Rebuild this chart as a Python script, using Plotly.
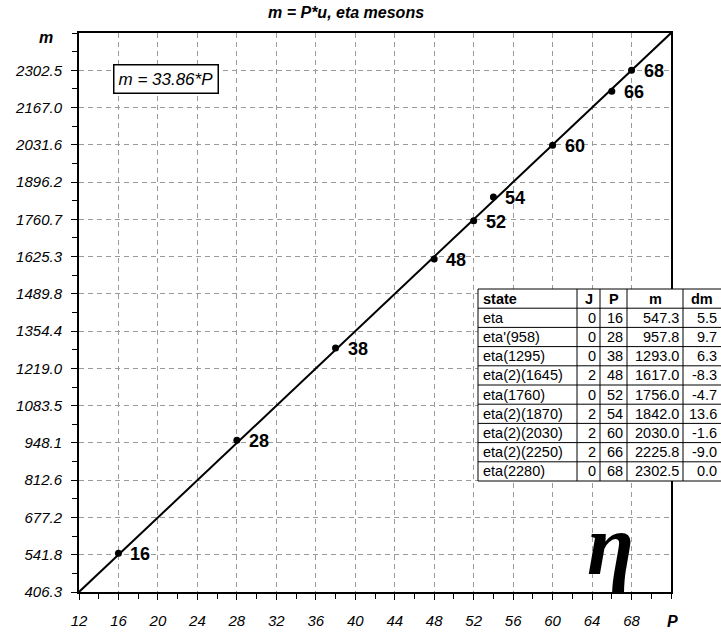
import plotly.graph_objects as go

# eta meson states: quantum number J, index P, mass m and deviation dm from the fit
states = ["eta", "eta'(958)", "eta(1295)", "eta(2)(1645)", "eta(1760)",
          "eta(2)(1870)", "eta(2)(2030)", "eta(2)(2250)", "eta(2280)"]
J = [0, 0, 0, 2, 0, 2, 2, 2, 0]
P = [16, 28, 38, 48, 52, 54, 60, 66, 68]
m = [547.3, 957.8, 1293.0, 1617.0, 1756.0, 1842.0, 2030.0, 2225.8, 2302.5]
dm = [5.5, 9.7, 6.3, -8.3, -4.7, 13.6, -1.6, -9.0, 0.0]

# fitted mass unit: m = u*P
U = 33.86
P_RANGE = [12, 72]

x_ticks = [12, 16, 20, 24, 28, 32, 36, 40, 44, 48, 52, 56, 60, 64, 68]
y_tick_labels = ["406.3", "541.8", "677.2", "812.6", "948.1", "1083.5", "1219.0",
                 "1354.4", "1489.8", "1625.3", "1760.7", "1896.2", "2031.6",
                 "2167.0", "2302.5"]

table_header = ["state", "J", "P", "m", "dm"]

W, H = 721, 633
ML, MR, MT, MB = 79, 0, 33, 41
PLOT_RIGHT = 671
paper_w = W - ML - MR
paper_h = H - MT - MB


def px(x):
    return (x - ML) / paper_w


def py(y):
    return (H - MB - y) / paper_h


FONT = "Liberation Sans, Arial, sans-serif"

fig = go.Figure()

# fit line across the full axis range
fig.add_trace(go.Scatter(
    x=P_RANGE, y=[U * p for p in P_RANGE], mode="lines",
    line=dict(color="black", width=2), hoverinfo="skip", showlegend=False))

# measured states
fig.add_trace(go.Scatter(
    x=P, y=m, mode="markers", marker=dict(color="black", size=7),
    showlegend=False))

for p, mv in zip(P, m):
    fig.add_annotation(x=p, y=mv, text=str(p), showarrow=False, xanchor="left",
                       yanchor="middle", xshift=10, yshift=-1,
                       font=dict(family=FONT, size=18, color="black", weight="bold"))

# ---- table of states (white box, ruling, cell texts) ----
col_edges = [478, 577, 600, 627, 683, 721.5]
row_top, row_h = 289, 19.2
n_rows = len(states) + 1
row_edges = [row_top + k * row_h for k in range(n_rows + 1)]

fig.add_shape(type="rect", xref="paper", yref="paper",
              x0=px(col_edges[0]), x1=px(col_edges[-1]),
              y0=py(row_edges[-1]), y1=py(row_edges[0]),
              fillcolor="white", line=dict(color="black", width=1), layer="above")
for ye in row_edges[1:-1]:
    fig.add_shape(type="line", xref="paper", yref="paper",
                  x0=px(col_edges[0]), x1=px(col_edges[-1]), y0=py(ye), y1=py(ye),
                  line=dict(color="black", width=1), layer="above")
for xe in col_edges[1:-1]:
    fig.add_shape(type="line", xref="paper", yref="paper",
                  x0=px(xe), x1=px(xe), y0=py(row_edges[-1]), y1=py(row_edges[0]),
                  line=dict(color="black", width=1), layer="above")

cell_font = dict(family=FONT, size=14.5, color="black")
head_font = dict(family=FONT, size=14.5, color="black", weight="bold")

# header row
for c, name in enumerate(table_header):
    yc = py(row_edges[0] + row_h / 2)
    if c == 0:
        fig.add_annotation(x=px(col_edges[0] + 3), y=yc, xref="paper", yref="paper",
                           text=name, showarrow=False, xanchor="left",
                           yanchor="middle", font=head_font)
    else:
        fig.add_annotation(x=px((col_edges[c] + col_edges[c + 1]) / 2), y=yc,
                           xref="paper", yref="paper", text=name, showarrow=False,
                           xanchor="center", yanchor="middle", font=head_font)

# body rows
columns = [states, [str(v) for v in J], [str(v) for v in P],
           [f"{v:.1f}" for v in m], [f"{v:.1f}" for v in dm]]
for r in range(len(states)):
    yc = py(row_edges[r + 1] + row_h / 2)
    for c, col in enumerate(columns):
        if c == 0:
            fig.add_annotation(x=px(col_edges[0] + 3), y=yc, xref="paper",
                               yref="paper", text=col[r], showarrow=False,
                               xanchor="left", yanchor="middle", font=cell_font)
        else:
            fig.add_annotation(x=px(min(col_edges[c + 1], 721) - 2), y=yc,
                               xref="paper", yref="paper", text=col[r],
                               showarrow=False, xanchor="right", yanchor="middle",
                               font=cell_font)

grid = dict(showgrid=True, gridcolor="#9a9a9a", gridwidth=1, griddash="5px,4px")

fig.update_xaxes(
    domain=[0, (PLOT_RIGHT - ML) / paper_w], range=P_RANGE,
    tickvals=x_ticks, ticktext=[str(v) for v in x_ticks],
    ticks="outside", ticklen=6, tickwidth=1, tickcolor="black",
    ticklabelstandoff=8,
    minor=dict(tick0=12, dtick=2, ticks="outside", ticklen=5, tickcolor="black",
               showgrid=False),
    showline=True, linecolor="black", linewidth=2, mirror=True, zeroline=False,
    tickfont=dict(family=FONT, size=15, color="black", style="italic"),
    **grid)

fig.update_yaxes(
    range=[U * P_RANGE[0], U * P_RANGE[1]],
    tickvals=[U * v for v in x_ticks], ticktext=y_tick_labels,
    ticks="outside", ticklen=6, tickwidth=1, tickcolor="black",
    ticklabelstandoff=6,
    minor=dict(tick0=U * 12, dtick=U * 2, ticks="outside", ticklen=5,
               tickcolor="black", showgrid=False),
    showline=True, linecolor="black", linewidth=2, mirror=True, zeroline=False,
    tickfont=dict(family=FONT, size=15, color="black", style="italic"),
    **grid)

# title and axis names
fig.add_annotation(x=px(346), y=py(12), xref="paper", yref="paper",
                   text="m = P*u, eta mesons", showarrow=False,
                   xanchor="center", yanchor="middle",
                   font=dict(family=FONT, size=16, color="black", weight="bold",
                             style="italic"))
fig.add_annotation(x=px(46), y=py(37), xref="paper", yref="paper", text="m",
                   showarrow=False, xanchor="center", yanchor="middle",
                   font=dict(family=FONT, size=16, color="black", weight="bold",
                             style="italic"))
fig.add_annotation(x=px(672), y=py(621), xref="paper", yref="paper", text="P",
                   showarrow=False, xanchor="center", yanchor="middle",
                   font=dict(family=FONT, size=16, color="black", weight="bold",
                             style="italic"))

# fit equation box
fig.add_annotation(x=px(113), y=py(79), xref="paper", yref="paper",
                   text=f"m = {U}*P", showarrow=False, xanchor="left",
                   yanchor="middle",
                   bgcolor="white", bordercolor="black", borderwidth=1.5,
                   borderpad=4,
                   font=dict(family=FONT, size=17, color="black", style="italic"))

# eta symbol
fig.add_annotation(x=px(610), y=py(545), xref="paper", yref="paper", text="η",
                   showarrow=False, xanchor="center", yanchor="middle",
                   font=dict(family="Liberation Serif, Times New Roman, serif",
                             size=86, color="black", style="italic",
                             weight="bold"))

fig.update_layout(
    width=W, height=H, margin=dict(l=ML, r=MR, t=MT, b=MB),
    paper_bgcolor="white", plot_bgcolor="white", showlegend=False)

fig.write_html("out.html")
